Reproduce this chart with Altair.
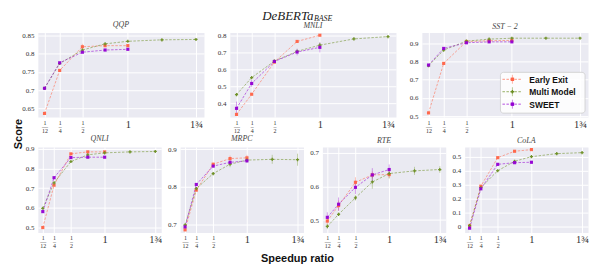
import altair as alt
import pandas as pd

methods = ["Early Exit", "Multi Model", "SWEET"]
colors = ["#ff6347", "#6b8e23", "#9400d3"]
shapes = ["square", "cross", "square"]

x_short = [1/12, 1/4, 1/2, 3/4, 1]
x_long = [1/12, 1/4, 1/2, 3/4, 1, 1.375, 1.75]
x_ticks = [1/12, 1/4, 1/2, 1, 1.75]

tasks = ["QQP", "MNLI", "SST-2", "QNLI", "MRPC", "RTE", "CoLA"]
panel_titles = ["QQP", "MNLI", "SST − 2", "QNLI", "MRPC", "RTE", "CoLA"]

ee_score = {
    "QQP": [0.636, 0.754, 0.819, 0.822, 0.822],
    "MNLI": [0.333, 0.453, 0.644, 0.767, 0.804],
    "SST-2": [0.518, 0.789, 0.909, 0.913, 0.915],
    "QNLI": [0.500, 0.715, 0.874, 0.884, 0.884],
    "MRPC": [0.685, 0.791, 0.860, 0.875, 0.877],
    "RTE": [0.497, 0.543, 0.612, 0.634, 0.635],
    "CoLA": [0.005, 0.290, 0.495, 0.541, 0.553],
}
mm_score = {
    "QQP": [0.705, 0.773, 0.810, 0.827, 0.834, 0.838, 0.839],
    "MNLI": [0.451, 0.552, 0.650, 0.708, 0.745, 0.782, 0.796],
    "SST-2": [0.776, 0.862, 0.911, 0.922, 0.927, 0.927, 0.927],
    "QNLI": [0.598, 0.727, 0.835, 0.869, 0.879, 0.884, 0.886],
    "MRPC": [0.698, 0.795, 0.835, 0.860, 0.871, 0.873, 0.872],
    "RTE": [0.481, 0.517, 0.566, 0.613, 0.638, 0.646, 0.650],
    "CoLA": [0.007, 0.280, 0.401, 0.469, 0.502, 0.524, 0.531],
}
sw_score = {
    "QQP": [0.705, 0.775, 0.804, 0.810, 0.812],
    "MNLI": [0.369, 0.517, 0.648, 0.704, 0.732],
    "SST-2": [0.780, 0.871, 0.902, 0.907, 0.907],
    "QNLI": [0.581, 0.753, 0.855, 0.857, 0.857],
    "MRPC": [0.693, 0.806, 0.855, 0.865, 0.869],
    "RTE": [0.508, 0.547, 0.597, 0.634, 0.650],
    "CoLA": [-0.012, 0.271, 0.447, 0.459, 0.462],
}
ee_err = {
    "QQP": [0.002, 0.003, 0.008, 0.004, 0.003],
    "MNLI": [0.005, 0.006, 0.008, 0.006, 0.003],
    "SST-2": [0.004, 0.004, 0.004, 0.004, 0.004],
    "QNLI": [0.003, 0.004, 0.004, 0.004, 0.004],
    "MRPC": [0.003, 0.003, 0.004, 0.008, 0.008],
    "RTE": [0.010, 0.015, 0.015, 0.010, 0.010],
    "CoLA": [0.008, 0.008, 0.006, 0.006, 0.006],
}
mm_err = {
    "QQP": [0.002, 0.002, 0.002, 0.003, 0.002, 0.002, 0.002],
    "MNLI": [0.004, 0.004, 0.008, 0.010, 0.015, 0.008, 0.005],
    "SST-2": [0.004, 0.004, 0.004, 0.004, 0.004, 0.004, 0.004],
    "QNLI": [0.004, 0.004, 0.004, 0.004, 0.004, 0.004, 0.004],
    "MRPC": [0.004, 0.004, 0.004, 0.008, 0.006, 0.012, 0.016],
    "RTE": [0.008, 0.005, 0.008, 0.020, 0.015, 0.012, 0.010],
    "CoLA": [0.010, 0.008, 0.008, 0.008, 0.008, 0.008, 0.008],
}
sw_err = {
    "QQP": [0.002, 0.002, 0.002, 0.003, 0.003],
    "MNLI": [0.040, 0.020, 0.010, 0.020, 0.030],
    "SST-2": [0.004, 0.004, 0.004, 0.006, 0.006],
    "QNLI": [0.004, 0.004, 0.004, 0.004, 0.004],
    "MRPC": [0.003, 0.004, 0.004, 0.005, 0.005],
    "RTE": [0.015, 0.020, 0.020, 0.020, 0.015],
    "CoLA": [0.008, 0.008, 0.010, 0.010, 0.010],
}

y_domains = {
    "QQP": [0.626, 0.858],
    "MNLI": [0.317, 0.82],
    "SST-2": [0.495, 0.958],
    "QNLI": [0.475, 0.909],
    "MRPC": [0.678, 0.906],
    "RTE": [0.463, 0.717],
    "CoLA": [-0.043, 0.572],
}
y_ticks = {
    "QQP": [0.65, 0.7, 0.75, 0.8, 0.85],
    "MNLI": [0.4, 0.5, 0.6, 0.7, 0.8],
    "SST-2": [0.5, 0.6, 0.7, 0.8, 0.9],
    "QNLI": [0.5, 0.6, 0.7, 0.8, 0.9],
    "MRPC": [0.7, 0.8, 0.9],
    "RTE": [0.5, 0.6, 0.7],
    "CoLA": [0, 0.1, 0.2, 0.3, 0.4, 0.5],
}

rows = []
for t in tasks:
    for m, xs, sc, er in [("Early Exit", x_short, ee_score, ee_err),
                          ("Multi Model", x_long, mm_score, mm_err),
                          ("SWEET", x_short, sw_score, sw_err)]:
        for xv, yv, ev in zip(xs, sc[t], er[t]):
            rows.append({"task": t, "method": m, "x": xv, "y": yv,
                         "lo": yv - ev, "hi": yv + ev})
df = pd.DataFrame(rows)

X_DOMAIN = [0.01, 1.838]
SERIF = "Liberation Serif"
SANS = "Liberation Sans"
BG = "#eaeaf2"

x_label_expr = ("datum.value < 0.1 ? ['1', '—', '12'] : datum.value < 0.3 ? ['1', '–', '4'] : "
                "datum.value < 0.6 ? ['1', '–', '2'] : datum.value < 1.2 ? '1' : '1¾'")


def text_layer(s, x, y, **kw):
    return alt.Chart(pd.DataFrame({"s": [s]})).mark_text(**kw).encode(
        text="s:N", x=alt.value(x), y=alt.value(y))


def panel(i, w, h):
    t = tasks[i]
    sub = df[df.task == t]
    base = alt.Chart(sub)
    X = alt.X("x:Q", scale=alt.Scale(domain=X_DOMAIN, nice=False, zero=False),
              axis=alt.Axis(values=x_ticks, labelExpr=x_label_expr, title=None,
                            labelFontSize={"condition": {"test": "datum.value > 0.9", "value": 10.5}, "value": 6},
                            labelLineHeight=4.2, labelPadding=2, labelOverlap=False,
                            labelFlush=False, minExtent=12, maxExtent=12))
    yscale = alt.Scale(domain=y_domains[t], nice=False, zero=False)
    yaxis = alt.Axis(values=y_ticks[t], format="~g", title=None, labelFontSize=7,
                     labelPadding=4, labelOverlap=False, labelFlush=False,
                     minExtent=27, maxExtent=27)
    C = alt.Color("method:N", scale=alt.Scale(domain=methods, range=colors), legend=None)
    S = alt.Shape("method:N", scale=alt.Scale(domain=methods, range=shapes), legend=None)
    err = base.mark_rule(strokeWidth=0.8, opacity=0.45).encode(
        x=X, y=alt.Y("lo:Q", scale=yscale, axis=yaxis), y2="hi:Q", color=C)
    line = base.mark_line(strokeDash=[2.5, 1.5], strokeWidth=1, opacity=0.55).encode(
        x=X, y=alt.Y("y:Q", scale=yscale, axis=yaxis), color=C)
    pts = base.mark_point(filled=True, size=10, opacity=0.95).encode(
        x=X, y=alt.Y("y:Q", scale=yscale, axis=yaxis), color=C, shape=S)
    layers = [err, line, pts]

    if t == "SST-2":
        layers.append(alt.Chart(pd.DataFrame({"s": ["box"]})).mark_rect(
            fill="white", fillOpacity=0.85, stroke="#cccccc", strokeWidth=0.8,
            cornerRadius=3).encode(
            x=alt.value(79), x2=alt.value(164), y=alt.value(40), y2=alt.value(81)))
        for k, m in enumerate(methods):
            yc = 47 + 12.5 * k
            d = pd.DataFrame({"method": [m]})
            layers.append(alt.Chart(d).mark_rule(strokeWidth=1, strokeDash=[2.5, 1.5],
                                                 opacity=0.7, color=colors[k]).encode(
                x=alt.value(81), x2=alt.value(101), y=alt.value(yc)))
            layers.append(alt.Chart(d).mark_rule(strokeWidth=0.8, opacity=0.6,
                                                 color=colors[k]).encode(
                x=alt.value(91), y=alt.value(yc - 4.5), y2=alt.value(yc + 4.5)))
            layers.append(alt.Chart(d).mark_point(filled=True, size=12, shape=shapes[k],
                                                  color=colors[k], opacity=1).encode(
                x=alt.value(91), y=alt.value(yc)))
            layers.append(alt.Chart(d).mark_text(align="left", baseline="middle",
                                                 font=SANS, fontWeight="bold",
                                                 fontSize=8.5, color="#111").encode(
                text="method:N", x=alt.value(108), y=alt.value(yc + 0.5)))

    return alt.layer(*layers).properties(
        width=w, height=h,
        view=alt.ViewBackground(fill=BG, stroke="transparent"),
        title=alt.TitleParams(panel_titles[i], font=SERIF, fontStyle="italic",
                              fontWeight="normal", fontSize=8, color="#444", offset=2,
                              frame="group", anchor="middle"))


def spacer(w, h, texts=()):
    layers = [text_layer("", 0, 0)]
    for s, x, y, kw in texts:
        layers.append(text_layer(s, x, y, **kw))
    return alt.layer(*layers).properties(
        width=w, height=h,
        view=alt.ViewBackground(fill="transparent", stroke="transparent"))


score_texts = [
    ("Score", -15, 102, dict(angle=270, align="center", baseline="alphabetic",
                             font=SANS, fontWeight="bold", fontSize=11, color="#111")),
]
title_texts = [
    ("DeBERTa", 110, -13, dict(align="right", baseline="alphabetic", font=SERIF,
                                fontStyle="italic", fontSize=13, color="#222")),
    ("BASE", 110.5, -11.5, dict(align="left", baseline="alphabetic", font=SERIF,
                                fontStyle="italic", fontSize=8, color="#222")),
]
xlabel_texts = [
    ("Speedup ratio", -6, 116, dict(align="center", baseline="alphabetic", font=SANS,
                                    fontWeight="bold", fontSize=11, color="#111")),
]

H1, H2 = 85, 86
row1 = alt.hconcat(
    panel(0, 167, H1), spacer(26, H1, title_texts),
    panel(1, 167, H1), spacer(26, H1), panel(2, 167, H1),
    spacing=0, bounds="flush")
row2 = alt.hconcat(
    panel(3, 124, H2), spacer(19, H2), panel(4, 124, H2),
    spacer(19, H2, xlabel_texts), panel(5, 124, H2), spacer(19, H2), panel(6, 124, H2),
    spacing=0, bounds="flush")

grid = alt.vconcat(row1, row2, spacing=0)

chart = alt.hconcat(spacer(1, 1, score_texts), grid, spacing=0, bounds="flush").properties(
    padding={"left": 2, "top": 0, "right": 0, "bottom": 0}
).configure_view(
    stroke=None
).configure_axis(
    grid=True, gridColor="white", gridWidth=1, domain=False, ticks=False,
    labelFont=SERIF, labelColor="#333"
)

chart.save("out.html", embed_options={"renderer": "svg", "actions": False})
